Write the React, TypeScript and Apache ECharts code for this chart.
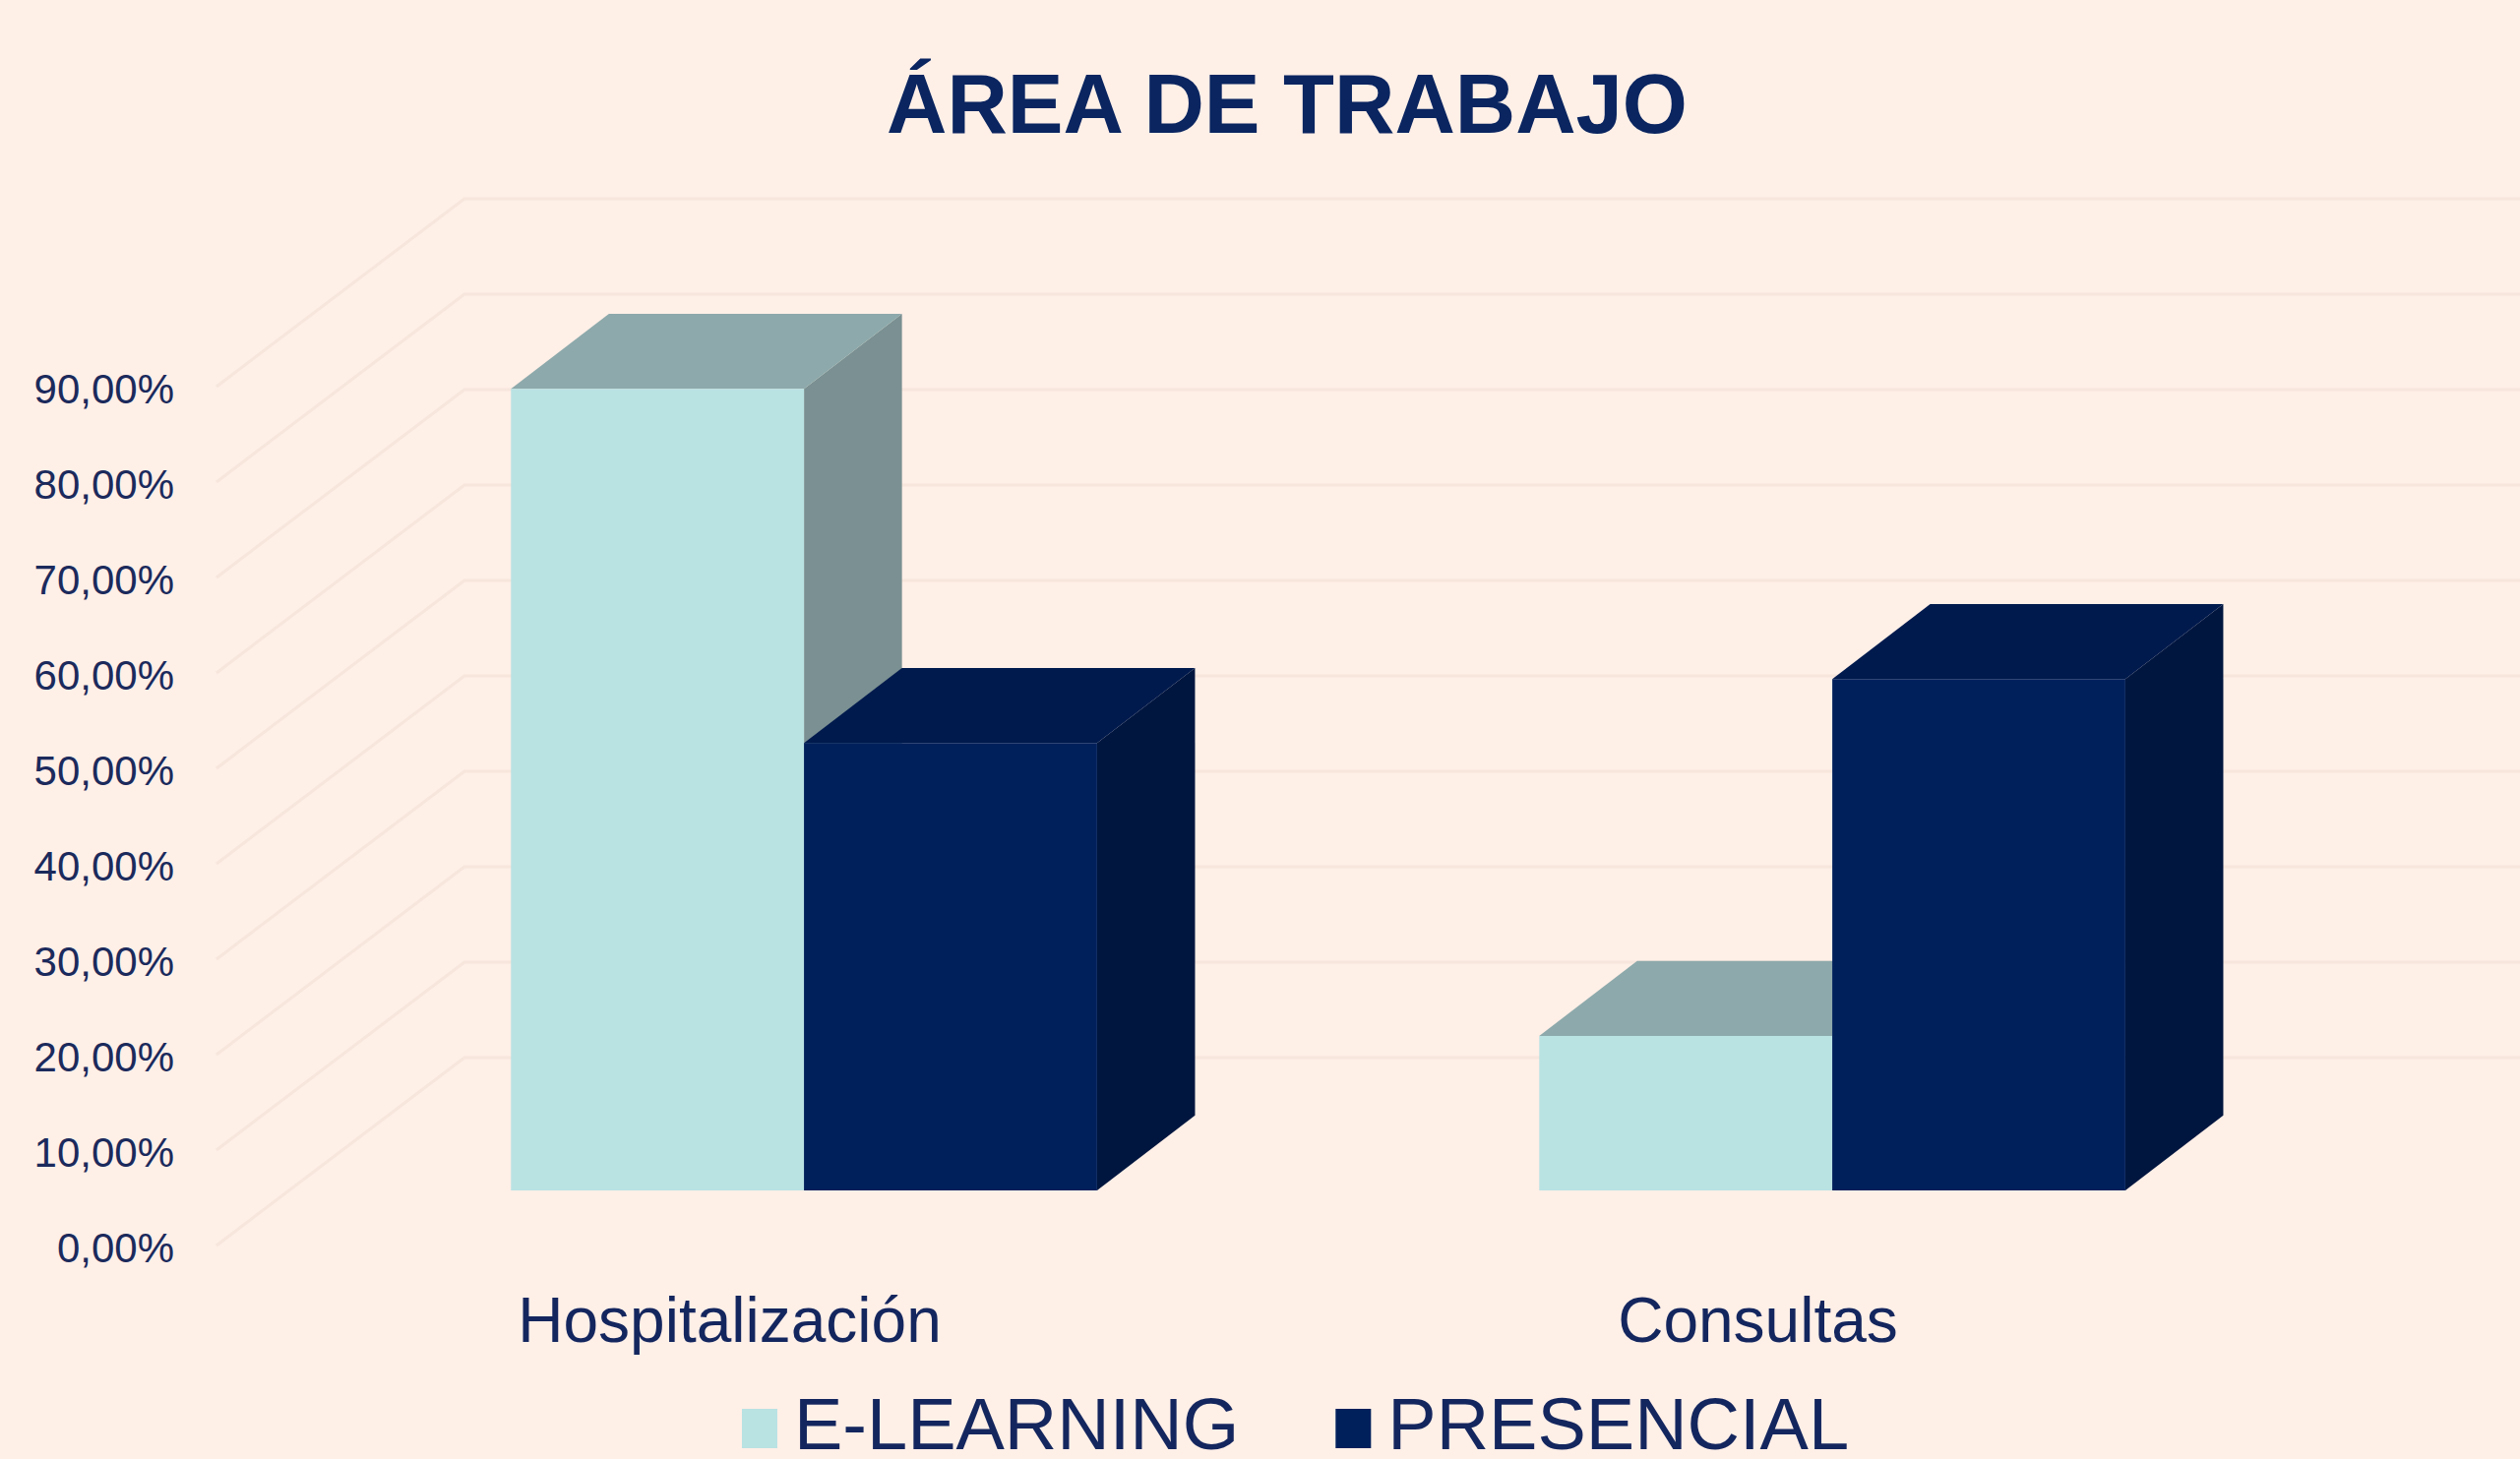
import React, { useEffect, useRef } from "react";
import * as echarts from "echarts";

const categories = ["Hospitalización", "Consultas"];
const eLearning = [84, 16.2];
const presencial = [46.9, 53.6];
const gridTicks = [0, 10, 20, 30, 40, 50, 60, 70, 80, 90];

const BG = "#FEEFE7";
const NAVY = "#00205C";
const FONT = '"Liberation Sans", Arial, sans-serif';
const LEGEND_ICON = "path://M0 0L0 0M0 10H36V50H0Z";

const DEPTH_X = 252;
const DEPTH_Y = -193;
const BAR_NEAR = 0.3;
const BAR_FAR = 0.695;
const BAR_BAND = 0.285;

function barRenderer(side: number, front: string, top: string, right: string) {
  return (_params: any, api: any) => {
    const base = api.coord([api.value(0), 0]);
    const head = api.coord([api.value(0), api.value(1)]);
    const w = api.size([1, 0])[0] * BAR_BAND;
    const x0 = base[0] + (side < 0 ? -w : 0);
    const x1 = x0 + w;
    const p = (x: number, y: number, d: number) => [x + DEPTH_X * d, y + DEPTH_Y * d];
    const yB = base[1];
    const yT = head[1];
    return {
      type: "group",
      children: [
        {
          type: "polygon",
          shape: { points: [p(x1, yB, BAR_NEAR), p(x1, yB, BAR_FAR), p(x1, yT, BAR_FAR), p(x1, yT, BAR_NEAR)] },
          style: { fill: right },
        },
        {
          type: "polygon",
          shape: { points: [p(x0, yT, BAR_NEAR), p(x0, yT, BAR_FAR), p(x1, yT, BAR_FAR), p(x1, yT, BAR_NEAR)] },
          style: { fill: top },
        },
        {
          type: "polygon",
          shape: { points: [p(x0, yB, BAR_NEAR), p(x1, yB, BAR_NEAR), p(x1, yT, BAR_NEAR), p(x0, yT, BAR_NEAR)] },
          style: { fill: front },
        },
      ],
    };
  };
}

function wallRenderer(params: any, api: any) {
  const y = api.coord([0, api.value(0)])[1];
  const cs = params.coordSys;
  const xFront = cs.x + 1;
  const xBack = cs.x + 1 + DEPTH_X;
  return {
    type: "polyline",
    shape: { points: [[xFront, y - 2], [xBack, y + DEPTH_Y], [2561, y + DEPTH_Y]] },
    style: { stroke: "#F6E6DC", lineWidth: 3, fill: "none" },
    silent: true,
  };
}

export default function App() {
  const ref = useRef<HTMLDivElement>(null);
  useEffect(() => {
    const chart = echarts.init(ref.current!, undefined, { renderer: "svg" });
    chart.setOption({
      animation: false,
      backgroundColor: BG,
      title: {
        text: "ÁREA DE TRABAJO",
        left: 1303,
        top: 58,
        textAlign: "center",
        textStyle: { color: "#0A2560", fontFamily: FONT, fontSize: 85, fontWeight: "bold" },
      },
      grid: { left: 219, top: 395, width: 2090, height: 873, containLabel: false },
      xAxis: {
        type: "category",
        data: categories,
        axisLine: { show: false },
        axisTick: { show: false },
        splitLine: { show: false },
        axisLabel: { color: "#14265E", fontFamily: FONT, fontSize: 64, margin: 42 },
      },
      yAxis: {
        type: "value",
        min: 0,
        max: 90,
        interval: 10,
        axisLine: { show: false },
        axisTick: { show: false },
        splitLine: { show: false },
        axisLabel: {
          color: "#1B2A5C",
          fontFamily: FONT,
          fontSize: 42,
          margin: 42,
          formatter: (v: number) => v.toFixed(2).replace(".", ",") + "%",
        },
      },
      legend: {
        data: [
          { name: "E-LEARNING", icon: LEGEND_ICON, itemStyle: { color: "#B9E2E3" } },
          { name: "PRESENCIAL", icon: LEGEND_ICON, itemStyle: { color: NAVY } },
        ],
        left: 754,
        top: 1410,
        itemWidth: 36,
        itemHeight: 50,
        itemGap: 98,
        padding: 0,
        selectedMode: false,
        textStyle: { color: "#14265E", fontFamily: FONT, fontSize: 74, lineHeight: 66, padding: [0, 0, 0, 12] },
      },
      series: [
        {
          type: "custom",
          name: "grid",
          silent: true,
          clip: false,
          data: gridTicks.map((t) => [t]),
          encode: { y: 0 },
          renderItem: wallRenderer,
        },
        {
          type: "custom",
          name: "E-LEARNING",
          clip: false,
          itemStyle: { color: "#B9E2E3" },
          data: eLearning.map((v, i) => [i, v]),
          encode: { x: 0, y: 1 },
          renderItem: barRenderer(-1, "#B9E2E3", "#8DA9AB", "#7A9092"),
        },
        {
          type: "custom",
          name: "PRESENCIAL",
          clip: false,
          itemStyle: { color: NAVY },
          data: presencial.map((v, i) => [i, v]),
          encode: { x: 0, y: 1 },
          renderItem: barRenderer(1, NAVY, "#001A4D", "#00163F"),
        },
      ],
    });
    return () => chart.dispose();
  }, []);
  return <div ref={ref} style={{ position: "absolute", left: 0, top: 0, width: 2561, height: 1483 }} />;
}
